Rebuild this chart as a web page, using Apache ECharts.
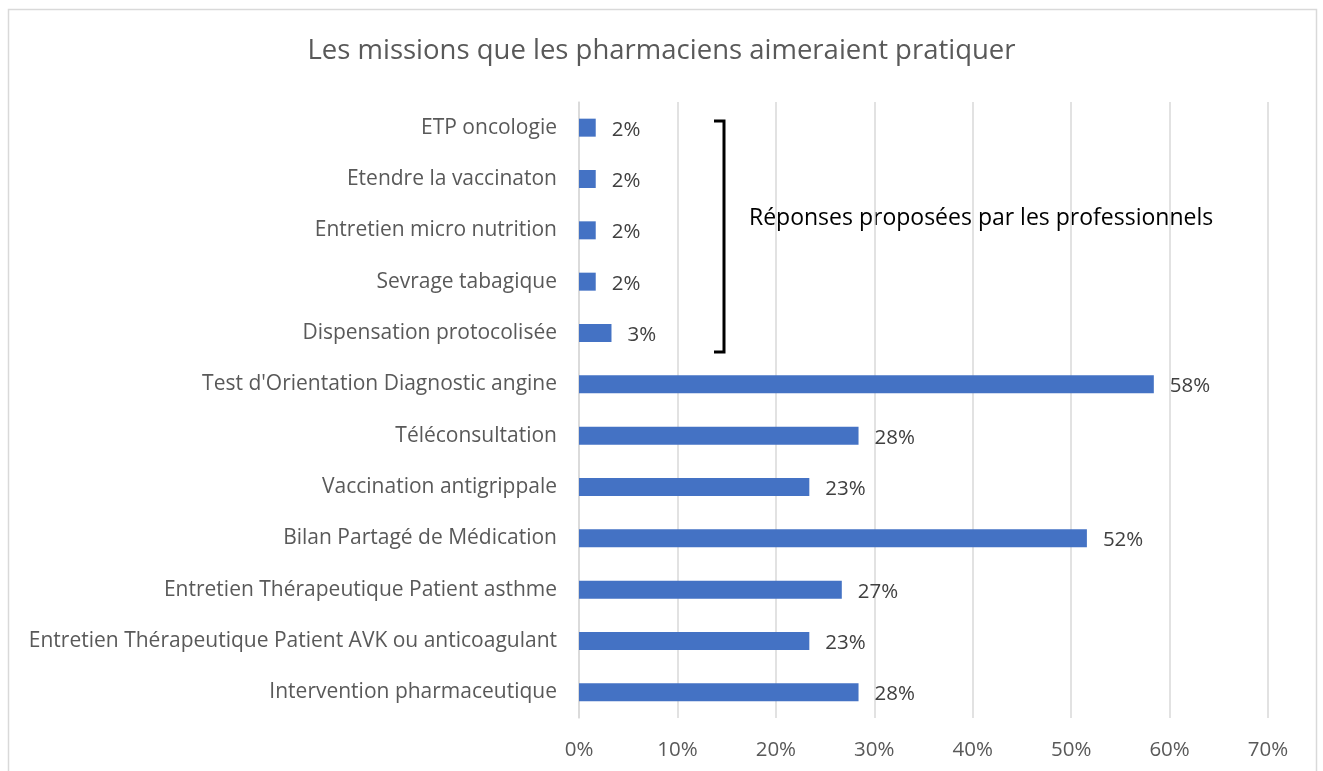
<!DOCTYPE html>
<html>
<head>
<meta charset="utf-8">
<script src="https://cdn.jsdelivr.net/npm/echarts@6/dist/echarts.min.js"></script>
<style>
html,body{margin:0;padding:0;background:#fff;}
#c{width:1323px;height:771px;}
</style>
</head>
<body>
<div id="c"></div>
<script>
// Categories listed bottom to top (as in ECharts category axis for horizontal bars)
const categories = [
  "Intervention pharmaceutique",
  "Entretien Thérapeutique Patient AVK ou anticoagulant",
  "Entretien Thérapeutique Patient asthme",
  "Bilan Partagé de Médication",
  "Vaccination antigrippale",
  "Téléconsultation",
  "Test d'Orientation Diagnostic angine",
  "Dispensation protocolisée",
  "Sevrage tabagique",
  "Entretien micro nutrition",
  "Etendre la vaccinaton",
  "ETP oncologie"
];
const values = [0.284, 0.234, 0.267, 0.516, 0.234, 0.284, 0.584, 0.033, 0.017, 0.017, 0.017, 0.017];
const titleText = "Les missions que les pharmaciens aimeraient pratiquer";
const noteText = "Réponses proposées par les professionnels";

const FONT = "Open Sans";
const chart = echarts.init(document.getElementById('c'), null, {renderer: 'canvas'});
chart.setOption({
  animation: false,
  backgroundColor: '#ffffff',
  title: {
    text: titleText,
    left: 'center',
    top: 32,
    textStyle: {fontFamily: FONT, fontSize: 27.5, fontWeight: 'normal', color: '#595959'}
  },
  grid: {left: 579, right: 55, top: 102, bottom: 53, containLabel: false},
  xAxis: {
    type: 'value',
    min: 0, max: 0.7, interval: 0.1,
    axisLine: {show: false},
    axisTick: {show: false},
    splitLine: {show: true, lineStyle: {color: '#d9d9d9', width: 1.5}},
    axisLabel: {
      fontFamily: FONT, fontSize: 20.5, color: '#595959', margin: 22,
      formatter: v => Math.round(v * 100) + '%'
    }
  },
  yAxis: {
    type: 'category',
    data: categories,
    axisLine: {show: true, lineStyle: {color: '#d9d9d9', width: 1.5}},
    axisTick: {show: false},
    axisLabel: {fontFamily: FONT, fontSize: 21, color: '#595959', margin: 22}
  },
  series: [{
    type: 'bar',
    data: values,
    barWidth: 18,
    itemStyle: {color: '#4472c4'},
    label: {
      show: true,
      position: 'right',
      distance: 16,
      fontFamily: FONT, fontSize: 20.5, color: '#404040',
      offset: [0, 2],
      formatter: p => Math.round(p.value * 100) + '%'
    }
  }],
  graphic: [
    {
      type: 'rect',
      shape: {x: 8.5, y: 9.5, width: 1308, height: 800},
      style: {fill: null, stroke: '#d9d9d9', lineWidth: 1.5},
      silent: true
    },
    {
      type: 'polyline',
      shape: {points: [[714, 121], [724, 121], [724, 352], [714, 352]]},
      style: {fill: null, stroke: '#000000', lineWidth: 3},
      silent: true
    },
    {
      type: 'text',
      left: 749, top: 207,
      style: {text: noteText, fontFamily: FONT, fontSize: 23, fill: '#000000'}
    }
  ]
});
</script>
</body>
</html>
